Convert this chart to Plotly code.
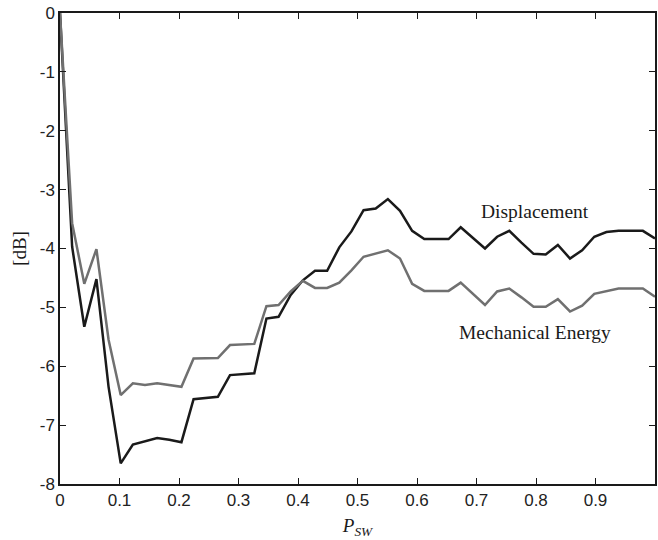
import plotly.graph_objects as go

# x grid: 50 equally spaced switching probabilities from 0 to 1
p_sw = [i / 49 for i in range(50)]

displacement = [0, -3.97, -5.33, -4.52, -6.35, -7.65, -7.33, -7.27, -7.22, -7.25,
                -7.29, -6.56, -6.54, -6.52, -6.15, -6.14, -6.12, -5.19, -5.16, -4.79,
                -4.54, -4.38, -4.38, -3.98, -3.71, -3.35, -3.32, -3.16, -3.36, -3.70,
                -3.84, -3.84, -3.84, -3.64, -3.82, -4.00, -3.80, -3.70, -3.90, -4.09,
                -4.10, -3.94, -4.17, -4.03, -3.80, -3.72, -3.70, -3.70, -3.70, -3.83]

mech_energy = [0, -3.57, -4.60, -4.01, -5.55, -6.49, -6.29, -6.32, -6.29, -6.32,
               -6.35, -5.87, -5.87, -5.86, -5.64, -5.63, -5.62, -4.98, -4.96, -4.73,
               -4.55, -4.67, -4.67, -4.58, -4.37, -4.14, -4.09, -4.03, -4.17, -4.60,
               -4.72, -4.72, -4.72, -4.58, -4.77, -4.96, -4.73, -4.68, -4.83, -4.99,
               -4.99, -4.86, -5.07, -4.97, -4.77, -4.72, -4.68, -4.68, -4.68, -4.82]

x_tickvals = [0, 0.1, 0.2, 0.3, 0.4, 0.5, 0.6, 0.7, 0.8, 0.9, 1]
x_ticktext = ["0", "0.1", "0.2", "0.3", "0.4", "0.5", "0.6", "0.7", "0.8", "0.9", "1"]
y_tickvals = [0, -1, -2, -3, -4, -5, -6, -7, -8]
y_ticktext = ["0", "-1", "-2", "-3", "-4", "-5", "-6", "-7", "-8"]

fig = go.Figure()
fig.add_trace(go.Scatter(x=p_sw, y=displacement, mode="lines",
                         line=dict(color="#1a1a1a", width=2.5), name="Displacement"))
fig.add_trace(go.Scatter(x=p_sw, y=mech_energy, mode="lines",
                         line=dict(color="#707070", width=2.5), name="Mechanical Energy"))

serif = "Liberation Serif, Times New Roman, serif"
sans = "Liberation Sans, Arial, Helvetica, sans-serif"

fig.add_annotation(x=0.798, y=-3.37, text="Displacement", showarrow=False,
                   xanchor="center", yanchor="middle",
                   font=dict(family=serif, size=19.5, color="#1a1a1a"))
fig.add_annotation(x=0.798, y=-5.43, text="Mechanical Energy", showarrow=False,
                   xanchor="center", yanchor="middle",
                   font=dict(family=serif, size=19.5, color="#1a1a1a"))

axis_common = dict(showline=True, linecolor="#1a1a1a", linewidth=1.5, mirror="ticks",
                   ticks="inside", ticklen=6, tickwidth=1.2, tickcolor="#1a1a1a",
                   showgrid=False, zeroline=False,
                   tickfont=dict(family=sans, size=17, color="#222222"))

fig.update_layout(
    width=658, height=540,
    margin=dict(l=60, r=1, t=13, b=56),
    paper_bgcolor="white", plot_bgcolor="white",
    showlegend=False,
    xaxis=dict(range=[0, 1], tickvals=x_tickvals, ticktext=x_ticktext,
               title=dict(text="<i>P</i><sub><i>SW</i></sub>", standoff=10,
                          font=dict(family=serif, size=19, color="#1a1a1a")),
               **axis_common),
    yaxis=dict(range=[-8, 0], tickvals=y_tickvals, ticktext=y_ticktext,
               title=dict(text="[dB]", standoff=8,
                          font=dict(family=serif, size=19, color="#1a1a1a")),
               **axis_common),
)

fig.write_html("out.html", config={"displayModeBar": False},
               post_script="document.body.style.margin='0';")
